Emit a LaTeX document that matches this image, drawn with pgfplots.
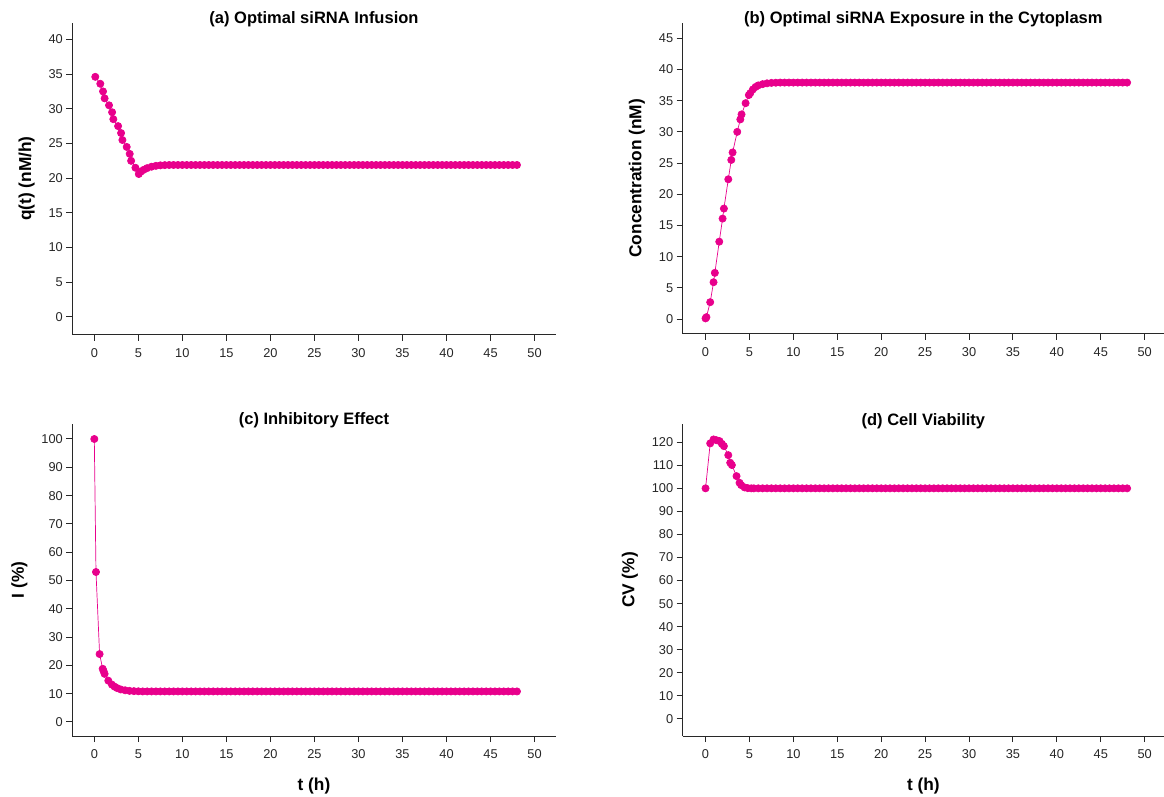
\documentclass[border=0pt]{standalone}
\usepackage{pgfplots}
\pgfplotsset{compat=1.18}
\usepackage{fontspec}
\setmainfont{Liberation Sans}
\definecolor{pk}{RGB}{232,0,140}
\definecolor{ax}{RGB}{40,40,40}
\pgfplotsset{
  myax/.style={
    scale only axis,
    axis x line=bottom, axis y line=left,
    axis line style={-, ax, line width=1pt},
    tick align=outside, major tick length=6pt,
    every tick/.style={ax, line width=1pt},
    tick label style={font=\fontsize{12.8}{14}\selectfont, text=black!85},
    xticklabel style={yshift=-4pt},
    /pgf/number format/assume math mode=true,
    xmin=-2.5, xmax=52.4,
    xtick={0,5,...,50},
    title style={at={(0.5,1)}, anchor=base, yshift=-7pt, font=\fontsize{16.5}{18}\selectfont\bfseries},
    label style={font=\fontsize{17.3}{19}\selectfont\bfseries},
    ylabel style={yshift=7pt},
    xlabel style={yshift=-12pt},
    clip=false,
  },
  myplot/.style={pk, line width=0.7pt, mark=*, mark size=3.6pt, mark options={pk, fill=pk, draw=pk}},
}
\begin{document}
\begin{tikzpicture}
\useasboundingbox (0pt,0pt) rectangle (1164pt,796pt);
% (a)
\begin{axis}[myax, at={(72.3pt,461.3pt)}, anchor=south west, width=483.4pt, height=312pt,
  ymin=-2.55, ymax=42.4, ytick={0,5,...,40},
  title={(a) Optimal siRNA Infusion}, ylabel={q(t) (nM/h)}]
\addplot[myplot] coordinates {
(0.11,34.6)(0.68,33.6)(0.99,32.5)(1.17,31.5)(1.67,30.5)(2.02,29.5)(2.16,28.5)(2.7,27.5)(3.04,26.5)(3.19,25.5)(3.68,24.5)(4.02,23.5)(4.18,22.5)(4.67,21.5)(5.05,20.6)
(5.3,20.95)(5.6,21.2)(6.0,21.45)(6.5,21.65)(7.0,21.78)(7.5,21.85)(8,21.88)(8.5,21.9)
(9,21.9)(9.5,21.9)(10,21.9)(10.5,21.9)(11,21.9)(11.5,21.9)(12,21.9)(12.5,21.9)(13,21.9)(13.5,21.9)(14,21.9)(14.5,21.9)(15,21.9)(15.5,21.9)(16,21.9)(16.5,21.9)(17,21.9)(17.5,21.9)(18,21.9)(18.5,21.9)(19,21.9)(19.5,21.9)(20,21.9)(20.5,21.9)(21,21.9)(21.5,21.9)(22,21.9)(22.5,21.9)(23,21.9)(23.5,21.9)(24,21.9)(24.5,21.9)(25,21.9)(25.5,21.9)(26,21.9)(26.5,21.9)(27,21.9)(27.5,21.9)(28,21.9)(28.5,21.9)(29,21.9)(29.5,21.9)(30,21.9)(30.5,21.9)(31,21.9)(31.5,21.9)(32,21.9)(32.5,21.9)(33,21.9)(33.5,21.9)(34,21.9)(34.5,21.9)(35,21.9)(35.5,21.9)(36,21.9)(36.5,21.9)(37,21.9)(37.5,21.9)(38,21.9)(38.5,21.9)(39,21.9)(39.5,21.9)(40,21.9)(40.5,21.9)(41,21.9)(41.5,21.9)(42,21.9)(42.5,21.9)(43,21.9)(43.5,21.9)(44,21.9)(44.5,21.9)(45,21.9)(45.5,21.9)(46,21.9)(46.5,21.9)(47,21.9)(47.5,21.9)(48,21.9)
};
\end{axis}
% (b)
\begin{axis}[myax, at={(682.7pt,462pt)}, anchor=south west, width=481.3pt, height=311.3pt,
  xmin=-2.6, xmax=52.2,
  ymin=-2.4, ymax=47.5, ytick={0,5,...,45},
  title={(b) Optimal siRNA Exposure in the Cytoplasm}, ylabel={Concentration (nM)}]
\addplot[myplot] coordinates {
(0,0.1)(0.1,0.3)(0.53,2.7)(0.91,5.9)(1.06,7.4)(1.56,12.4)(1.94,16.1)(2.09,17.7)(2.59,22.4)(2.93,25.5)(3.08,26.7)(3.61,30.0)(3.96,32.0)(4.1,32.8)(4.56,34.6)(4.93,35.9)(5.09,36.2)(5.39,36.8)(5.7,37.2)(6,37.45)(6.5,37.65)(7,37.78)(7.5,37.85)(8,37.88)(8.5,37.9)
(9,37.9)(9.5,37.9)(10,37.9)(10.5,37.9)(11,37.9)(11.5,37.9)(12,37.9)(12.5,37.9)(13,37.9)(13.5,37.9)(14,37.9)(14.5,37.9)(15,37.9)(15.5,37.9)(16,37.9)(16.5,37.9)(17,37.9)(17.5,37.9)(18,37.9)(18.5,37.9)(19,37.9)(19.5,37.9)(20,37.9)(20.5,37.9)(21,37.9)(21.5,37.9)(22,37.9)(22.5,37.9)(23,37.9)(23.5,37.9)(24,37.9)(24.5,37.9)(25,37.9)(25.5,37.9)(26,37.9)(26.5,37.9)(27,37.9)(27.5,37.9)(28,37.9)(28.5,37.9)(29,37.9)(29.5,37.9)(30,37.9)(30.5,37.9)(31,37.9)(31.5,37.9)(32,37.9)(32.5,37.9)(33,37.9)(33.5,37.9)(34,37.9)(34.5,37.9)(35,37.9)(35.5,37.9)(36,37.9)(36.5,37.9)(37,37.9)(37.5,37.9)(38,37.9)(38.5,37.9)(39,37.9)(39.5,37.9)(40,37.9)(40.5,37.9)(41,37.9)(41.5,37.9)(42,37.9)(42.5,37.9)(43,37.9)(43.5,37.9)(44,37.9)(44.5,37.9)(45,37.9)(45.5,37.9)(46,37.9)(46.5,37.9)(47,37.9)(47.5,37.9)(48,37.9)
};
\end{axis}
% (c)
\begin{axis}[myax, at={(72.3pt,60pt)}, anchor=south west, width=483.4pt, height=312pt,
  ymin=-4.95, ymax=105.3, ytick={0,10,...,100},
  title={(c) Inhibitory Effect}, ylabel={I (\%)}, xlabel={t (h)}]
\addplot[myplot] coordinates {
(0,100)(0.19,53)(0.6,24)(0.95,18.8)(1.05,18)(1.17,17)(1.59,14.6)(2.0,13.2)(2.3,12.5)(2.58,12)(3.0,11.5)(3.5,11.2)(4,11.0)(4.5,10.9)(5,10.85)
(5.5,10.8)(6,10.8)(6.5,10.8)(7,10.8)(7.5,10.8)(8,10.8)(8.5,10.8)
(9,10.8)(9.5,10.8)(10,10.8)(10.5,10.8)(11,10.8)(11.5,10.8)(12,10.8)(12.5,10.8)(13,10.8)(13.5,10.8)(14,10.8)(14.5,10.8)(15,10.8)(15.5,10.8)(16,10.8)(16.5,10.8)(17,10.8)(17.5,10.8)(18,10.8)(18.5,10.8)(19,10.8)(19.5,10.8)(20,10.8)(20.5,10.8)(21,10.8)(21.5,10.8)(22,10.8)(22.5,10.8)(23,10.8)(23.5,10.8)(24,10.8)(24.5,10.8)(25,10.8)(25.5,10.8)(26,10.8)(26.5,10.8)(27,10.8)(27.5,10.8)(28,10.8)(28.5,10.8)(29,10.8)(29.5,10.8)(30,10.8)(30.5,10.8)(31,10.8)(31.5,10.8)(32,10.8)(32.5,10.8)(33,10.8)(33.5,10.8)(34,10.8)(34.5,10.8)(35,10.8)(35.5,10.8)(36,10.8)(36.5,10.8)(37,10.8)(37.5,10.8)(38,10.8)(38.5,10.8)(39,10.8)(39.5,10.8)(40,10.8)(40.5,10.8)(41,10.8)(41.5,10.8)(42,10.8)(42.5,10.8)(43,10.8)(43.5,10.8)(44,10.8)(44.5,10.8)(45,10.8)(45.5,10.8)(46,10.8)(46.5,10.8)(47,10.8)(47.5,10.8)(48,10.8)
};
\end{axis}
% (d)
\begin{axis}[myax, at={(682.7pt,60pt)}, anchor=south west, width=481.3pt, height=312pt,
  xmin=-2.6, xmax=52.2,
  ymin=-7.4, ymax=127.9, ytick={0,10,...,120},
  title={(d) Cell Viability}, ylabel={CV (\%)}, xlabel={t (h)}]
\addplot[myplot] coordinates {
(0,100)(0.53,119.5)(0.91,121.2)(1.22,120.9)(1.59,120.5)(1.86,119.3)(2.09,118.3)(2.59,114.4)(2.81,111.1)(3.0,110.1)(3.53,105.3)(3.87,102.4)(4.06,101.4)(4.44,100.4)(4.8,100.1)(5.2,100)
(5.5,100)(6,100)(6.5,100)(7,100)(7.5,100)(8,100)(8.5,100)
(9,100)(9.5,100)(10,100)(10.5,100)(11,100)(11.5,100)(12,100)(12.5,100)(13,100)(13.5,100)(14,100)(14.5,100)(15,100)(15.5,100)(16,100)(16.5,100)(17,100)(17.5,100)(18,100)(18.5,100)(19,100)(19.5,100)(20,100)(20.5,100)(21,100)(21.5,100)(22,100)(22.5,100)(23,100)(23.5,100)(24,100)(24.5,100)(25,100)(25.5,100)(26,100)(26.5,100)(27,100)(27.5,100)(28,100)(28.5,100)(29,100)(29.5,100)(30,100)(30.5,100)(31,100)(31.5,100)(32,100)(32.5,100)(33,100)(33.5,100)(34,100)(34.5,100)(35,100)(35.5,100)(36,100)(36.5,100)(37,100)(37.5,100)(38,100)(38.5,100)(39,100)(39.5,100)(40,100)(40.5,100)(41,100)(41.5,100)(42,100)(42.5,100)(43,100)(43.5,100)(44,100)(44.5,100)(45,100)(45.5,100)(46,100)(46.5,100)(47,100)(47.5,100)(48,100)
};
\end{axis}
\end{tikzpicture}
\end{document}
